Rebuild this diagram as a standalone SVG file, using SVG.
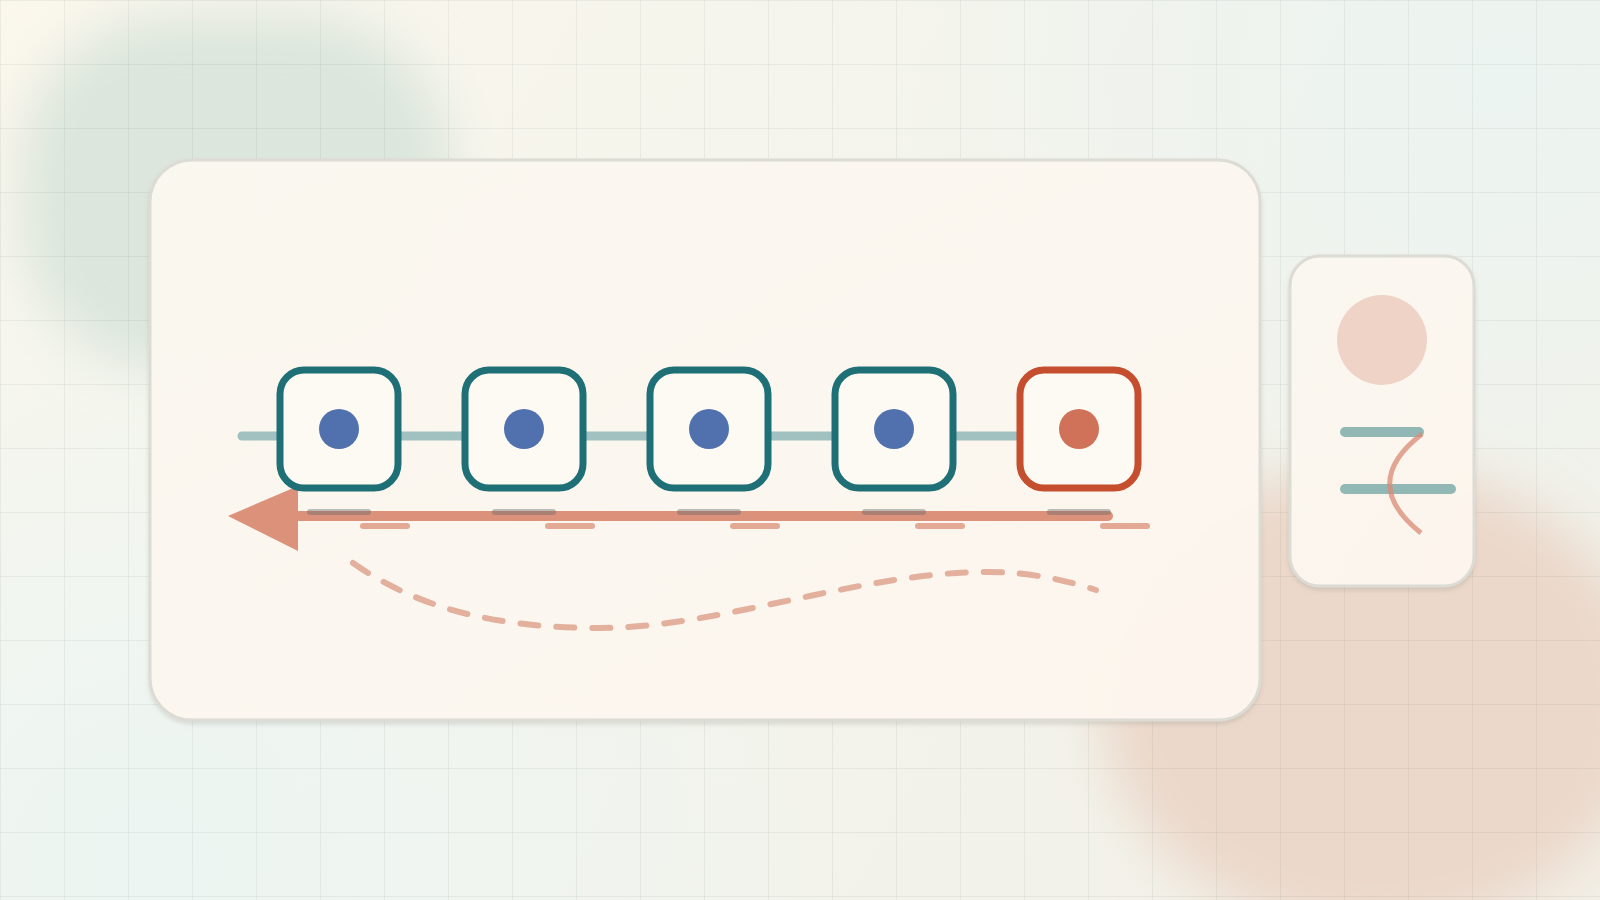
<svg xmlns="http://www.w3.org/2000/svg" width="1600" height="900" viewBox="0 0 1600 900">
  <defs>
    <linearGradient id="bg" x1="0" y1="0" x2="1600" y2="900" gradientUnits="userSpaceOnUse">
      <stop offset="0" stop-color="#fbf7ec"/>
      <stop offset="0.5" stop-color="#f3f4ec"/>
      <stop offset="1" stop-color="#f2efe6"/>
    </linearGradient>
    <radialGradient id="tealTR" cx="1500" cy="80" r="600" gradientUnits="userSpaceOnUse">
      <stop offset="0" stop-color="#ecf4f1"/>
      <stop offset="1" stop-color="#ecf4f1" stop-opacity="0"/>
    </radialGradient>
    <radialGradient id="tealBL" cx="150" cy="860" r="700" gradientUnits="userSpaceOnUse">
      <stop offset="0" stop-color="#ecf5f2"/>
      <stop offset="1" stop-color="#ecf5f2" stop-opacity="0"/>
    </radialGradient>
    <filter id="blur" x="-50%" y="-50%" width="200%" height="200%">
      <feGaussianBlur stdDeviation="26"/>
    </filter>
    <filter id="shadow" x="-10%" y="-10%" width="120%" height="130%">
      <feDropShadow dx="0" dy="3" stdDeviation="2" flood-color="#8a8a80" flood-opacity="0.25"/>
    </filter>
    <pattern id="grid" width="64" height="64" patternUnits="userSpaceOnUse">
      <path d="M0 0.5H64M0.5 0V64" fill="none" stroke="#5a6b60" stroke-opacity="0.09" stroke-width="1"/>
    </pattern>
    <linearGradient id="panelFill" x1="0" y1="0" x2="1" y2="1">
      <stop offset="0" stop-color="#fbf8f0"/>
      <stop offset="1" stop-color="#fdf6ee"/>
    </linearGradient>
    <style>
      .panel { fill: url(#panelFill); fill-opacity: 0.96; stroke: #dcdcd5; stroke-width: 3; }
      .box { fill: #fdfaf3; stroke: #1f7076; stroke-width: 7; }
      .box.hot { stroke: #c44e2e; }
      .dot { fill: #5071ad; }
      .dot.hot { fill: #d0725a; }
      .link { stroke: #a0c1bf; stroke-width: 9; stroke-linecap: round; fill: none; }
      .ret { stroke: #dc917b; stroke-width: 10; stroke-linecap: round; fill: none; }
      .tick { stroke: #666; stroke-opacity: 0.42; stroke-width: 6; stroke-linecap: round; }
      .sub { stroke: #e3a995; stroke-width: 6; stroke-linecap: round; }
      .wave { stroke: #e4b09e; stroke-width: 6; stroke-linecap: round; fill: none; stroke-dasharray: 18 18; }
      .bar { stroke: #92b8b6; stroke-width: 10; stroke-linecap: round; }
    </style>
  </defs>

  <!-- background -->
  <rect width="1600" height="900" fill="url(#bg)"/>
  <rect width="1600" height="900" fill="url(#tealTR)"/>
  <rect width="1600" height="900" fill="url(#tealBL)"/>
  <rect x="20" y="15" width="430" height="355" rx="150" fill="#dce6dd" filter="url(#blur)"/>
  <ellipse cx="1375" cy="700" rx="275" ry="235" fill="#ebd8ca" filter="url(#blur)"/>
  <rect width="1600" height="900" fill="url(#grid)"/>

  <!-- panels -->
  <g id="main-panel">
    <rect class="panel" x="150" y="160" width="1110" height="560" rx="42" filter="url(#shadow)"/>
  </g>

  <!-- connectors -->
  <g id="connectors">
    <line class="link" x1="242" y1="436" x2="1040" y2="436"/>
    <line class="ret" x1="296" y1="516" x2="1108" y2="516"/>
    <polygon points="228,516 298,486 298,551" fill="#dc917b"/>
    <g>
      <line class="tick" x1="310" y1="512" x2="368" y2="512"/>
      <line class="tick" x1="495" y1="512" x2="553" y2="512"/>
      <line class="tick" x1="680" y1="512" x2="738" y2="512"/>
      <line class="tick" x1="865" y1="512" x2="923" y2="512"/>
      <line class="tick" x1="1050" y1="512" x2="1108" y2="512"/>
    </g>
    <g>
      <line class="sub" x1="363" y1="526" x2="407" y2="526"/>
      <line class="sub" x1="548" y1="526" x2="592" y2="526"/>
      <line class="sub" x1="733" y1="526" x2="777" y2="526"/>
      <line class="sub" x1="918" y1="526" x2="962" y2="526"/>
      <line class="sub" x1="1103" y1="526" x2="1147" y2="526"/>
    </g>
    <path class="wave" d="M353 563 C420 610 500 628 599 628 C720 628 860 572 987 572 C1030 572 1065 580 1096 590"/>
  </g>

  <!-- nodes -->
  <g id="node-1">
    <rect class="box" x="280" y="370" width="118" height="118" rx="24"/>
    <circle class="dot" cx="339" cy="429" r="20"/>
  </g>
  <g id="node-2">
    <rect class="box" x="465" y="370" width="118" height="118" rx="24"/>
    <circle class="dot" cx="524" cy="429" r="20"/>
  </g>
  <g id="node-3">
    <rect class="box" x="650" y="370" width="118" height="118" rx="24"/>
    <circle class="dot" cx="709" cy="429" r="20"/>
  </g>
  <g id="node-4">
    <rect class="box" x="835" y="370" width="118" height="118" rx="24"/>
    <circle class="dot" cx="894" cy="429" r="20"/>
  </g>
  <g id="node-5">
    <rect class="box hot" x="1020" y="370" width="118" height="118" rx="24"/>
    <circle class="dot hot" cx="1079" cy="429" r="20"/>
  </g>

  <!-- side card -->
  <g id="side-card">
    <rect class="panel" x="1290" y="256" width="184" height="330" rx="30" filter="url(#shadow)"/>
    <circle cx="1382" cy="340" r="45" fill="#efd3c6"/>
    <line class="bar" x1="1345" y1="432" x2="1419" y2="432"/>
    <line class="bar" x1="1345" y1="489" x2="1451" y2="489"/>
    <path d="M1422 434 Q1358 483 1421 533" fill="none" stroke="#d98a74" stroke-opacity="0.75" stroke-width="5"/>
  </g>
</svg>
